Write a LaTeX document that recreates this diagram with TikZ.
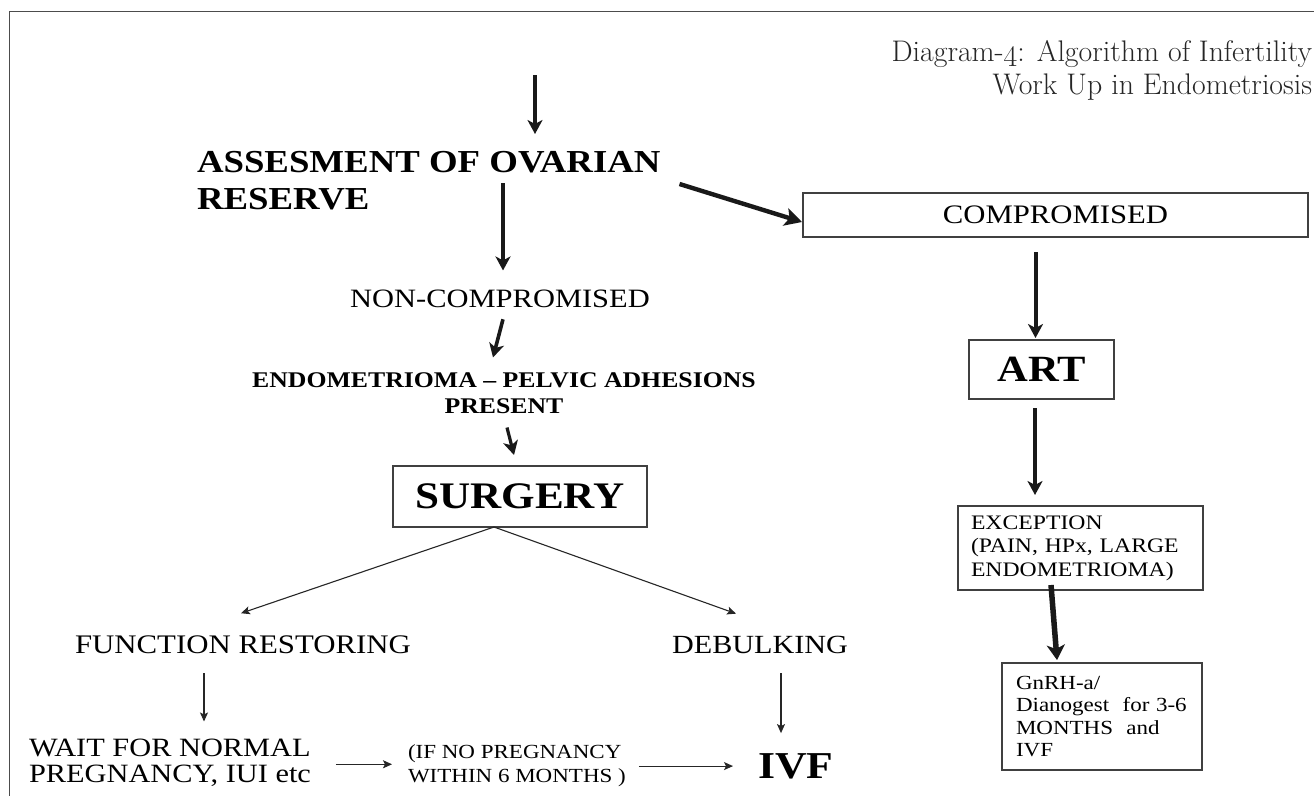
\documentclass[tikz,border=0pt]{standalone}
\usepackage{fontspec}
\usepackage{graphicx}
\newfontfamily\tnr{Liberation Serif}[FakeStretch=1.15]
\usetikzlibrary{arrows.meta,calc}
\newcommand\fs[2]{\fontsize{#1}{#2}\selectfont}
\begin{document}
\begin{tikzpicture}[x=1pt,y=-1pt,
  every node/.style={inner sep=0pt, outer sep=0pt, text=black},
  titletext/.style={anchor=base east, font=\fs{29.8}{29.8}\addfontfeatures{FakeBold=0.8}, text=black!85},
  boxed/.style={draw=black!75, line width=1.4pt},
  bigarrow/.style={draw=black!90, line width=3.6pt, -{Stealth[length=14pt,width=15pt,inset=4pt]}},
  thinarrow/.style={draw=black!85, line width=1.1pt, -{Stealth[length=9pt,width=8pt,inset=2pt]}},
]
\useasboundingbox (0,0) rectangle (1314,795);
\fill[white] (0,0) rectangle (1314,795);
\draw[black!70, line width=1.8pt] (9.5,800) -- (9.5,11.5) -- (1320,11.5);

% title
\node[titletext] (t1) at (1312,61) {Diagram-\raisebox{-0.2em}{4}: Algorithm of Infertility};
\node[titletext] (t2) at (1312,94) {Work Up in Endometriosis};

% left column
\coordinate (top) at (535,75);
\node[anchor=north west, align=left, font=\tnr\bfseries\fs{32}{37}] (assess) at (197,151) {ASSESMENT OF OVARIAN\\RESERVE};
\node[anchor=base, font=\tnr\fs{26.5}{26.5}] (noncomp) at (500,307) {NON-COMPROMISED};
\node[anchor=north, align=center, font=\tnr\bfseries\fs{22.4}{26}] (endo) at (504,372.5) {ENDOMETRIOMA – PELVIC ADHESIONS\\PRESENT};
\node[boxed, font=\tnr\bfseries\fs{37.5}{37.5}, minimum width=254pt, minimum height=61pt] (surgery) at (520,496.5) {SURGERY\hspace{14pt}};
\coordinate (sb) at ($(surgery.south)+(-26,0)$);
\node[anchor=base, font=\tnr\fs{26.8}{26.8}] (func) at (243,653) {FUNCTION RESTORING};
\node[anchor=base, font=\tnr\fs{26.2}{26.2}] (debulk) at (760,653) {DEBULKING};
\node[anchor=north west, align=left, font=\tnr\fs{26.4}{26}] (wait) at (29,739.5) {WAIT FOR NORMAL\\PREGNANCY, IUI etc};
\node[anchor=north west, align=left, font=\tnr\fs{20}{24}] (ifno) at (408,745) {(IF NO PREGNANCY\\WITHIN 6 MONTHS )};
\node[anchor=base west, font=\tnr\bfseries\fs{38}{38}] (ivf) at (758,778) {IVF};

% right column
\node[boxed, font=\tnr\fs{26.7}{26.7}, minimum width=505pt, minimum height=44pt] (comp) at (1055.5,215) {COMPROMISED};
\node[boxed, font=\tnr\bfseries\fs{37}{37}, minimum width=145pt, minimum height=59pt] (art) at (1041.5,369.5) {ART};
\node[boxed, font=\tnr\fs{20.6}{23.5}, text width=219pt, inner xsep=13pt, align=left, minimum height=84pt] (exc) at (1080.5,548) {EXCEPTION\\(PAIN, HPx, LARGE\\ENDOMETRIOMA)};
\node[boxed, font=\tnr\fs{20}{22.3}, text width=172pt, inner xsep=14pt, align=left, minimum height=107pt] (gnrh) at (1102,716.5) {GnRH-a/\\Dianogest\ \ for 3-6\\MONTHS\ \ and\\IVF};

% connectors
\draw[bigarrow, shorten >=17pt] (top) -- (top |- assess.north);
\coordinate (a1) at ($(assess.north west)+(306,32)$);
\draw[bigarrow] (a1) -- ($(noncomp.north)+(3,-19)$);
\draw[bigarrow] ($(noncomp.south)+(3,12)$) -- ($(endo.north)+(-11,-15)$);
\draw[bigarrow, line width=3.2pt] ($(endo.south)+(3,14)$) -- ($(surgery.north)+(-6,-11)$);
\draw[bigarrow, line width=4.4pt, -{Stealth[length=17pt,width=18pt,inset=4pt]}] ($(assess.north east)+(19,33)$) -- ($(comp.west)+(-1,7)$);

\draw[thinarrow] (sb) -- ($(func.north)+(-2,-22)$);
\draw[thinarrow] (sb) -- ($(debulk.north)+(-24,-22)$);
\coordinate (fa) at ($(func.south)+(-39,20)$);
\draw[thinarrow, shorten >=18pt] (fa) -- (fa |- wait.north);
\coordinate (da) at ($(debulk.south)+(21,20)$);
\draw[thinarrow, shorten >=20pt] (da) -- (da |- ivf.north);
\coordinate (wa) at ($(wait.east)+(25,1)$);
\draw[thinarrow, shorten >=16pt] (wa) -- (wa -| ifno.west);
\coordinate (ia) at ($(ifno.east)+(13,0)$);
\draw[thinarrow, shorten >=25pt] (ia) -- (ia -| ivf.west);

\coordinate (ca) at ($(comp.south)+(-20,15)$);
\draw[bigarrow, line width=4pt, shorten >=2pt] (ca) -- (ca |- art.north);
\coordinate (ra) at ($(art.south)+(-6.5,9)$);
\draw[bigarrow, line width=4pt, shorten >=11pt] (ra) -- (ra |- exc.north);
\draw[bigarrow, line width=5.5pt, -{Stealth[length=15pt,width=18pt,inset=4pt]}] ($(exc.south)+(-29.5,-5)$) -- ($(gnrh.north)+(-45,-3)$);
\end{tikzpicture}
\end{document}
